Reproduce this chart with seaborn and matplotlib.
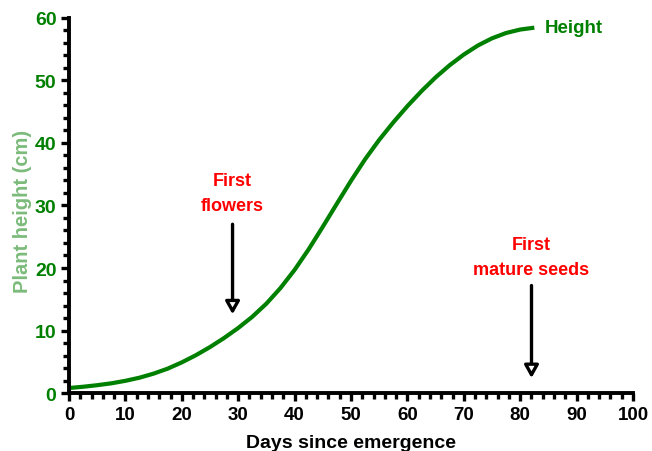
import matplotlib
matplotlib.use("Agg")
import matplotlib.pyplot as plt
from matplotlib.ticker import MultipleLocator
from matplotlib import font_manager
import seaborn as sns
import pandas as pd

days = [0, 2.5, 5, 7.5, 10, 12.5, 15, 17.5, 20, 22.5, 25, 27.5, 30, 32.5, 35, 37.5,
        40, 42.5, 45, 47.5, 50, 52.5, 55, 57.5, 60, 62.5, 65, 67.5, 70, 72.5, 75,
        77.5, 80, 82.5]
height = [0.8, 1.0, 1.25, 1.55, 1.95, 2.45, 3.1, 3.9, 4.9, 6.05, 7.35, 8.8, 10.4,
          12.2, 14.3, 16.8, 19.7, 23.0, 26.6, 30.3, 33.95, 37.4, 40.5, 43.3, 45.9,
          48.3, 50.5, 52.45, 54.15, 55.6, 56.75, 57.6, 58.15, 58.45]

annot_text = ["First\nflowers", "First\nmature seeds"]
annot_day = [29, 82]
annot_text_y = [28.6, 18.4]
annot_arrow_top = [27.0, 17.2]
annot_arrow_bottom = [12.6, 2.4]

sns.set_style("ticks")
plt.rcParams['font.family'] = ['Liberation Sans', 'DejaVu Sans']

avail = {f.name for f in font_manager.fontManager.ttflist}
narrow = ['Liberation Sans Narrow', 'Liberation Sans', 'DejaVu Sans'] if 'Liberation Sans Narrow' in avail \
    else ['Liberation Sans', 'DejaVu Sans']

fig = plt.figure(figsize=(6.52, 4.52), dpi=100)
ax = fig.add_axes([0.1058, 0.1283, 0.8651, 0.8297])

df = pd.DataFrame({"Days": days, "Height": height})
sns.lineplot(data=df, x="Days", y="Height", ax=ax, color="#008000", lw=3.0,
             solid_joinstyle="round", solid_capstyle="butt")

ax.set_xlim(0, 100)
ax.set_ylim(0, 60)
ax.xaxis.set_major_locator(MultipleLocator(10))
ax.xaxis.set_minor_locator(MultipleLocator(2))
ax.yaxis.set_major_locator(MultipleLocator(10))
ax.yaxis.set_minor_locator(MultipleLocator(2))

for s in ["top", "right"]:
    ax.spines[s].set_visible(False)
for s in ["left", "bottom"]:
    ax.spines[s].set_linewidth(2.8)
    ax.spines[s].set_color("black")

ax.tick_params(which="major", length=6, width=2.4, direction="out", color="black")
ax.tick_params(which="minor", length=4, width=2.4, direction="out", color="black")
ax.tick_params(axis="y", which="major", pad=3, labelsize=14, labelcolor="#008000")
ax.tick_params(axis="x", which="major", pad=3, labelsize=13.5, labelcolor="black")
for lab in ax.get_xticklabels() + ax.get_yticklabels():
    lab.set_fontweight("bold")
for lab in ax.get_xticklabels():
    lab.set_family(narrow)

ax.set_xlabel("Days since emergence", fontsize=14, fontweight="bold", color="black", labelpad=8)
ax.set_ylabel("")
fig.text(0.034, 0.533, "Plant height (cm)", rotation=90, ha="center", va="center",
         fontsize=14.5, fontweight="bold", color="#5aaa5a", alpha=0.8)

ax.text(days[-1] + 1.8, height[-1], "Height", color="#008000", fontsize=13.5,
        fontweight="bold", ha="left", va="center")

for t, d, ty, a0, a1 in zip(annot_text, annot_day, annot_text_y, annot_arrow_top, annot_arrow_bottom):
    ax.text(d, ty, t, color="red", fontsize=13, fontweight="bold", ha="center", va="bottom",
            linespacing=1.65)
    ax.annotate("", xy=(d, a1), xytext=(d, a0),
                arrowprops=dict(arrowstyle="-|>,head_length=0.75,head_width=0.42",
                                fc="white", ec="black", lw=2.4, shrinkA=0, shrinkB=0))

fig.savefig("out.png", dpi=100)
